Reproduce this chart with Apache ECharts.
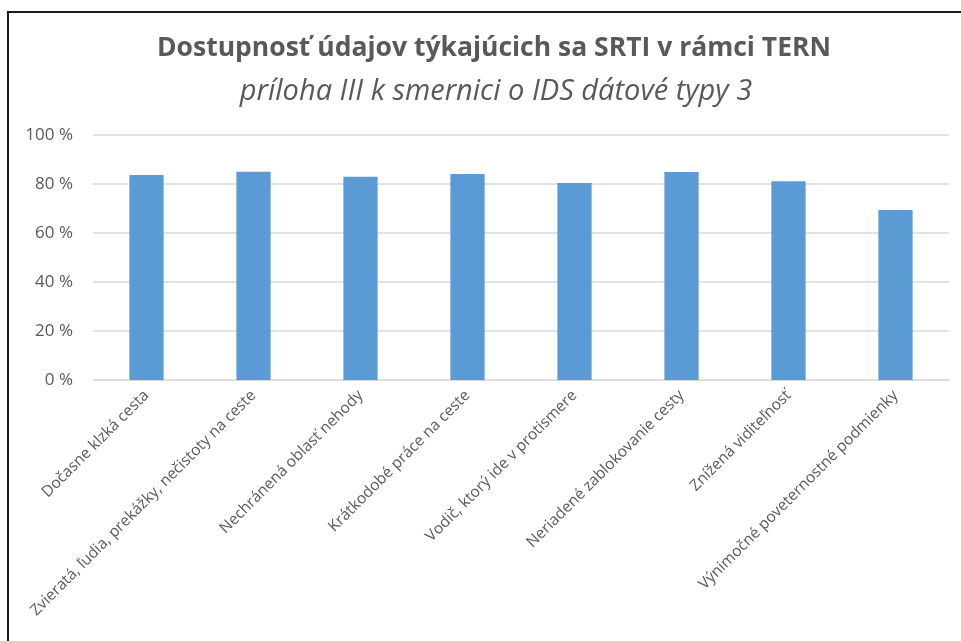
<!DOCTYPE html>
<html>
<head>
<meta charset="utf-8">
<script src="https://cdn.jsdelivr.net/npm/echarts@6/dist/echarts.min.js"></script>
<style>
  html, body { margin: 0; padding: 0; background: #fff; }
  #main { width: 961px; height: 641px; }
</style>
</head>
<body>
<div id="main"></div>
<script>
var categories = [
  "Dočasne klzká cesta",
  "Zvieratá, ľudia, prekážky, nečistoty na ceste",
  "Nechránená oblasť nehody",
  "Krátkodobé práce na ceste",
  "Vodič, ktorý ide v protismere",
  "Neriadené zablokovanie cesty",
  "Znížená viditeľnosť",
  "Výnimočné poveternostné podmienky"
];
var values = [83.7, 85.0, 83.0, 84.1, 80.4, 84.9, 81.1, 69.4];
var yTicks = [0, 20, 40, 60, 80, 100];

var myChart = echarts.init(document.getElementById("main"));

var option = {
  backgroundColor: "#ffffff",
  animation: false,
  title: [
    {
      text: "Dostupnosť údajov týkajúcich sa SRTI v rámci TERN",
      left: 489,
      textAlign: "center",
      top: 30,
      textStyle: {
        fontFamily: "Open Sans",
        fontSize: 26.5,
        fontWeight: "bold",
        color: "#595959"
      }
    },
    {
      text: "príloha III k smernici o IDS dátové typy 3",
      left: 491,
      textAlign: "center",
      top: 72,
      textStyle: {
        fontFamily: "Open Sans",
        fontSize: 29,
        fontStyle: "italic",
        fontWeight: "normal",
        color: "#595959"
      }
    }
  ],
  grid: {
    left: 93,
    right: 12,
    top: 135,
    bottom: 261
  },
  xAxis: {
    type: "category",
    data: categories,
    axisLine: { lineStyle: { color: "#d9d9d9", width: 1 } },
    axisTick: { show: false },
    axisLabel: {
      rotate: 45,
      interval: 0,
      margin: 13,
      fontFamily: "Open Sans",
      fontSize: 15.5,
      color: "#595959"
    }
  },
  yAxis: {
    type: "value",
    min: yTicks[0],
    max: yTicks[yTicks.length - 1],
    interval: 20,
    axisLine: { show: false },
    axisTick: { show: false },
    splitLine: { lineStyle: { color: "#d9d9d9", width: 1.5 } },
    axisLabel: {
      margin: 20,
      fontFamily: "Open Sans",
      fontSize: 17,
      color: "#595959",
      formatter: function (v) { return v + " %"; }
    }
  },
  series: [
    {
      type: "bar",
      data: values,
      barWidth: "32%",
      itemStyle: { color: "#5b9bd5" }
    }
  ],
  graphic: [
    {
      type: "polyline",
      silent: true,
      shape: { points: [[8, 641], [8, 12], [961, 12]] },
      style: { stroke: "#1a1a1a", lineWidth: 2, fill: null }
    }
  ]
};

myChart.setOption(option);
</script>
</body>
</html>
